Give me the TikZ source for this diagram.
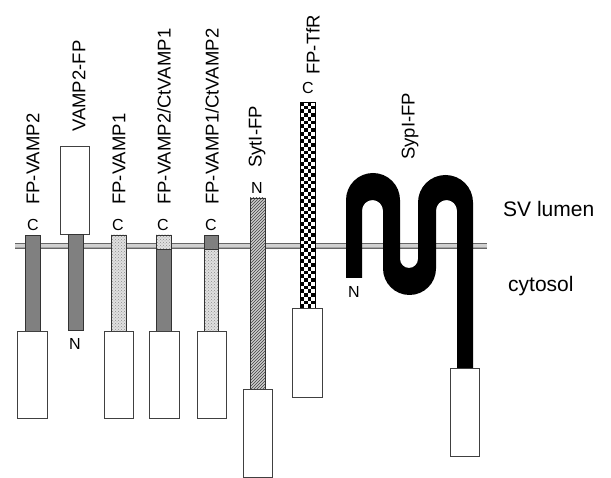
\documentclass[tikz,border=0pt]{standalone}
\usepackage{fontspec}
\setmainfont{Liberation Sans}
\usetikzlibrary{patterns}
\begin{document}
\begin{tikzpicture}[x=1pt,y=1pt,
  lbl/.style={rotate=90,anchor=west,inner sep=0pt,font=\fontsize{18.5}{20}\selectfont},
  term/.style={inner sep=0pt,font=\fontsize{16}{18}\selectfont},
  side/.style={inner sep=0pt,anchor=west,font=\fontsize{21}{24}\selectfont},
  fpbox/.style={draw=black!75,fill=white,line width=0.9pt},
  darkbar/.style={draw=black!80,line width=0.5pt,fill=black!50},
  lightbar/.style={draw=black!80,line width=0.5pt,fill=black!12,pattern color=black!45},
  hatchbar/.style={draw=black!80,line width=0.5pt},
]
\useasboundingbox (0,0) rectangle (611,-478);
\fill[white] (0,0) rectangle (611,-478);

% membrane
\fill[black!35] (15,-243) rectangle (487,-248.5);
\draw[black!60,line width=0.8pt] (15,-243) -- (487,-243) (15,-248.5) -- (487,-248.5);
\fill[black!18] (15,-244.5) rectangle (487,-247);

% 1 FP-VAMP2
\draw[darkbar] (25,-235) rectangle (40,-331);
\draw[fpbox] (17,-331) rectangle (47,-418);
\node[term] (c1) at (33,-225) {C};
\node[lbl] (l1) at (33,-205) {FP-VAMP2};

% 2 VAMP2-FP
\draw[fpbox] (60,-146) rectangle (89,-234);
\draw[darkbar] (68,-234) rectangle (83,-330);
\node[term] (n2) at (75,-344) {N};
\node[lbl] (l2) at (79,-132) {VAMP2-FP};

% 3 FP-VAMP1
\fill[black!12] (111,-235) rectangle (126,-331);
\draw[lightbar,pattern=crosshatch dots] (111,-235) rectangle (126,-331);
\draw[fpbox] (104,-331) rectangle (133,-418);
\node[term] (c3) at (118,-225) {C};
\node[lbl] (l3) at (119,-205) {FP-VAMP1};

% 4 FP-VAMP2/CtVAMP1
\fill[black!12] (156,-235) rectangle (171,-249);
\draw[lightbar,pattern=crosshatch dots] (156,-235) rectangle (171,-249);
\draw[darkbar] (156,-249) rectangle (171,-331);
\draw[fpbox] (149,-331) rectangle (179,-418);
\node[term] (c4) at (163,-225) {C};
\node[lbl] (l4) at (164,-205) {FP-VAMP2/CtVAMP1};

% 5 FP-VAMP1/CtVAMP2
\draw[darkbar] (204,-235) rectangle (218,-249);
\fill[black!12] (204,-249) rectangle (218,-331);
\draw[lightbar,pattern=crosshatch dots] (204,-249) rectangle (218,-331);
\draw[fpbox] (197,-331) rectangle (226,-418);
\node[term] (c5) at (211,-225) {C};
\node[lbl] (l5) at (212,-205) {FP-VAMP1/CtVAMP2};

% 6 SytI-FP
\fill[black!20] (250,-198) rectangle (265,-389);
\draw[hatchbar,pattern=north east lines,pattern color=black!75] (250,-198) rectangle (265,-389);
\draw[fpbox] (243,-389) rectangle (272,-477);
\node[term] (n6) at (257,-188) {N};
\node[lbl] (l6) at (257,-168) {SytI-FP};

% 7 FP-TfR
\fill[white] (300,-102) rectangle (315,-308);
\begin{scope}
\clip (300,-102) rectangle (315,-308);
\foreach \j in {0,...,54}{
  \foreach \i in {0,...,3}{
    \pgfmathtruncatemacro\kk{mod(\i+\j,2)}
    \ifnum\kk=0 \fill[black] (300+\i*3.75,-102-\j*3.75) rectangle ++(3.75,-3.75);\fi
  }
}
\end{scope}
\draw[black,line width=0.6pt] (300,-102) rectangle (315,-308);
\draw[fpbox] (292,-308) rectangle (322,-397);
\node[term] (c7) at (308,-88) {C};
\node[lbl] (l7) at (313,-75) {FP-TfR};

% 8 SypI-FP
\fill[black] (346,-278) -- (346,-200) arc[start angle=180,end angle=0,radius=27]
  -- (400,-259) arc[start angle=180,end angle=360,radius=9]
  -- (418,-202.5) arc[start angle=180,end angle=0,radius=27.5]
  -- (473,-368) -- (457,-368) -- (457,-210.5) arc[start angle=0,end angle=180,radius=10.5]
  -- (436,-268.5) arc[start angle=0,end angle=-180,radius=26.5]
  -- (383,-210.5) arc[start angle=0,end angle=180,radius=10.5]
  -- (362,-278) -- cycle;
\draw[fpbox] (450,-368) rectangle (479,-456);
\node[term] (n8) at (354,-292) {N};
\node[lbl] (l8) at (410,-160) {SypI-FP};

% side labels
\node[side] (sv) at (503,-209) {SV lumen};
\node[side] (cy) at (508,-286) {cytosol};
\end{tikzpicture}
\end{document}
